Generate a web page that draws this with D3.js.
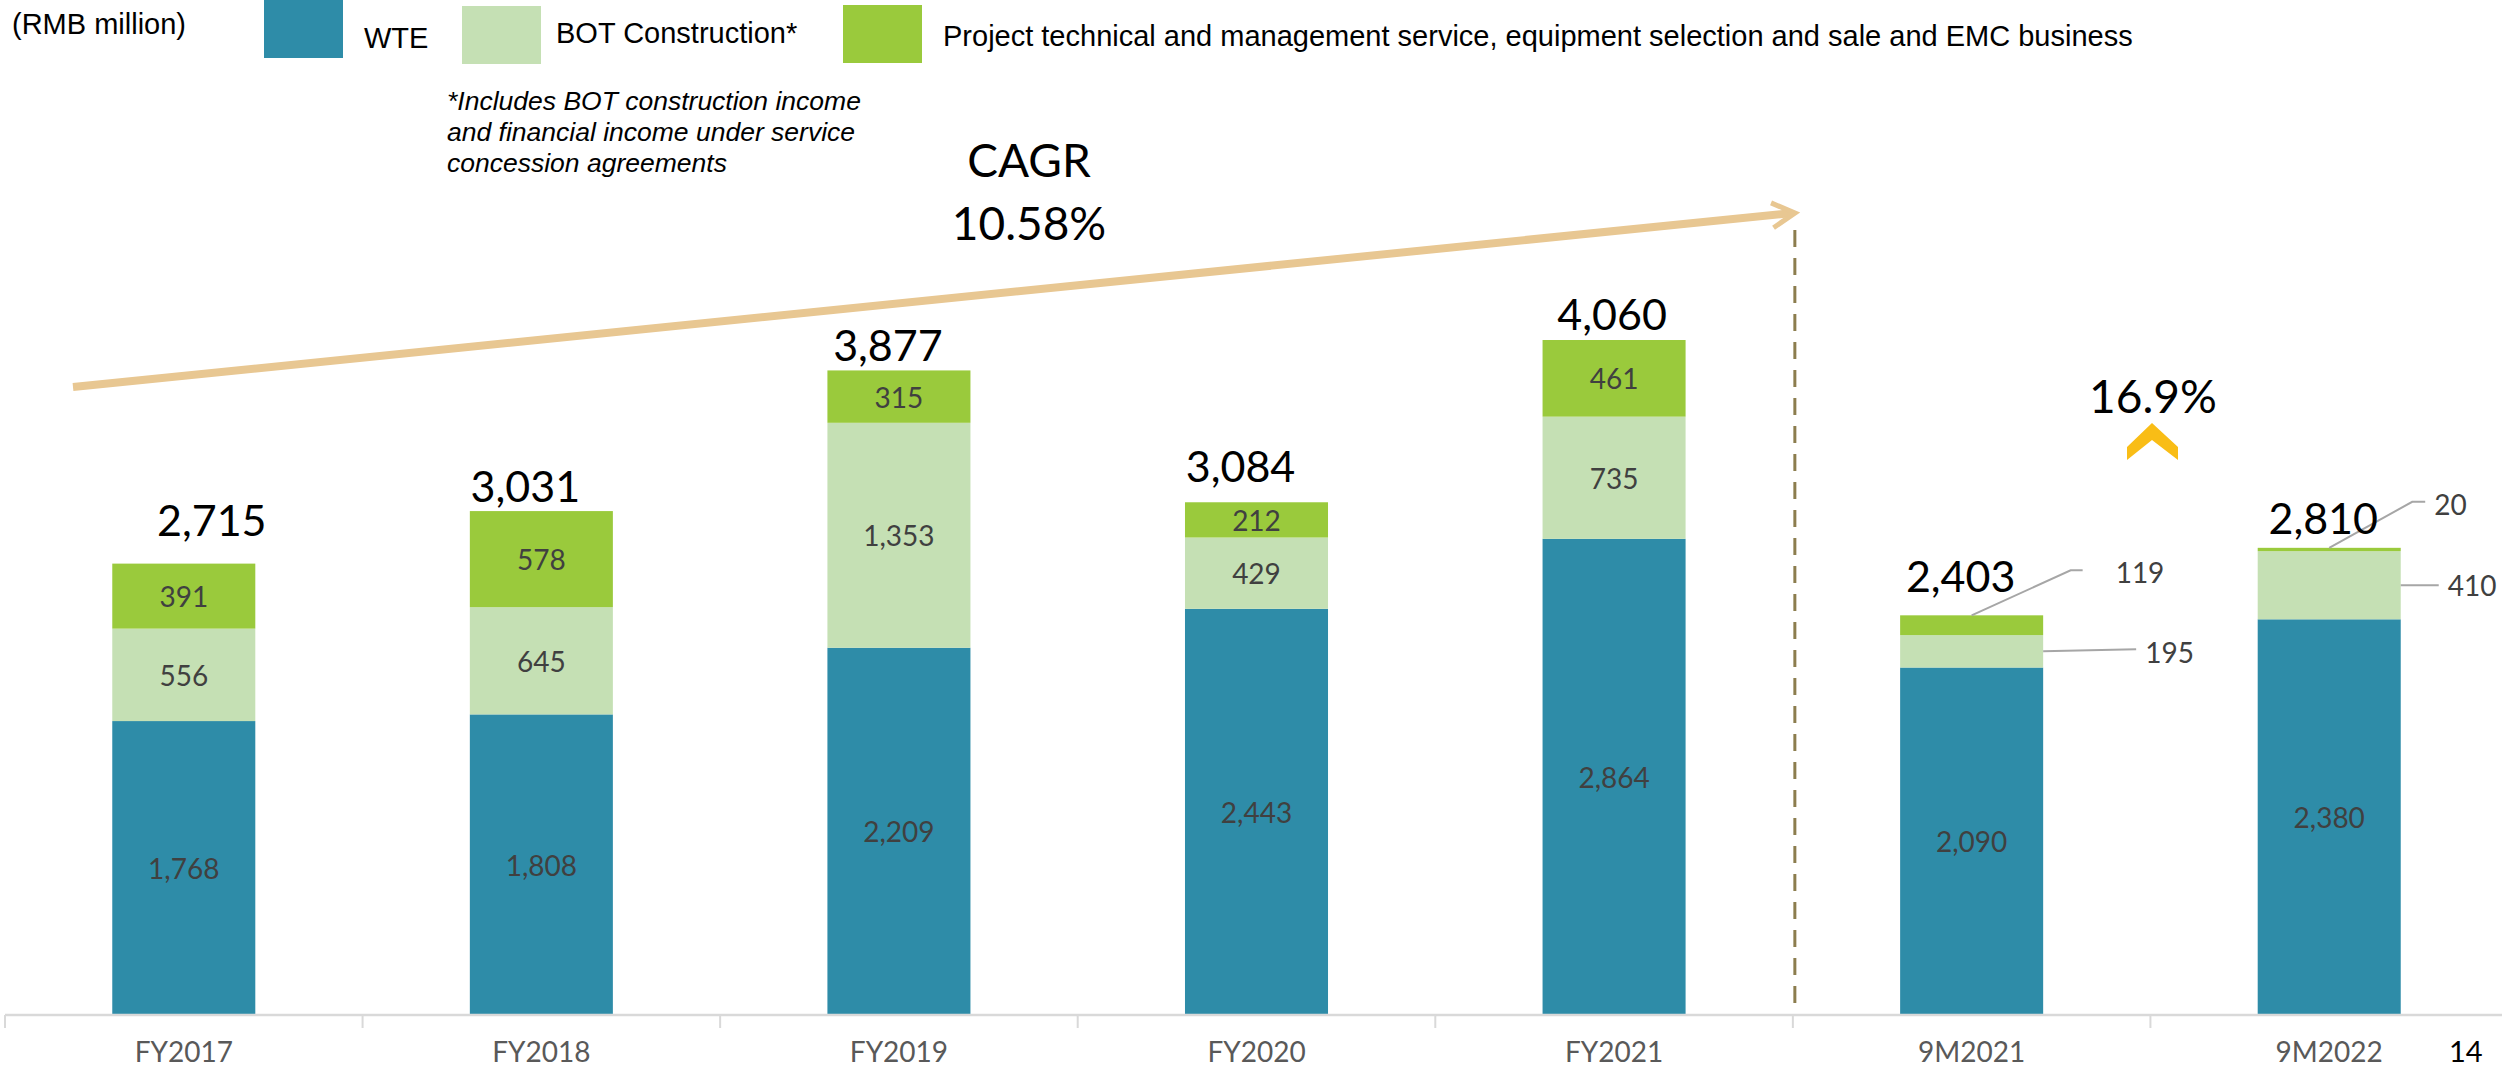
<!DOCTYPE html>
<html lang="en">
  <head>
    <meta charset="UTF-8" />
    <title>Revenue breakdown</title>
    <script src="https://d3js.org/d3.v7.min.js"></script>
    <style>
      html,
      body {
        margin: 0;
        padding: 0;
        background: #ffffff;
        overflow: hidden;
      }
      svg {
        display: block;
      }
      .legend text {
        font-family: "Liberation Sans", Arial, sans-serif;
        font-size: 29px;
        fill: #000;
      }
      .note {
        font-family: "Liberation Sans", Arial, sans-serif;
        font-size: 26.5px;
        font-style: italic;
        fill: #000;
      }
      .num {
        font-family: Lato, "Open Sans", sans-serif;
      }
    </style>
  </head>
  <body>
    <svg id="chart"></svg>
  </body>
  <script>
    // data (RMB million)
    const categories = ["FY2017", "FY2018", "FY2019", "FY2020", "FY2021", "9M2021", "9M2022"];
    const wte = [1768, 1808, 2209, 2443, 2864, 2090, 2380];
    const bot = [556, 645, 1353, 429, 735, 195, 410];
    const other = [391, 578, 315, 212, 461, 119, 20];
    const totalLabels = ["2,715", "3,031", "3,877", "3,084", "4,060", "2,403", "2,810"];
    const seriesNames = [
      "WTE",
      "BOT Construction*",
      "Project technical and management service, equipment selection and sale and EMC business",
    ];
    const unitLabel = "(RMB million)";
    const noteLines = [
      "*Includes BOT construction income",
      "and financial income under service",
      "concession agreements",
    ];
    const cagrLines = ["CAGR", "10.58%"];
    const growthLabel = "16.9%";
    const pageNumber = "14";

    const width = 2502;
    const height = 1069;
    const colors = { wte: "#2e8ca8", bot: "#c5e0b4", other: "#9aca3c" };
    const keys = ["wte", "bot", "other"];

    const svg = d3.select("#chart").attr("width", width).attr("height", height);

    const x = d3
      .scaleBand()
      .domain(categories)
      .range([5, 2508])
      .paddingInner(0.6)
      .paddingOuter(0.3);
    const step = x.step();
    const y = d3.scaleLinear().domain([0, 4060]).range([1015, 340]);

    const rows = categories.map((c, i) => ({ cat: c, wte: wte[i], bot: bot[i], other: other[i] }));
    const stacked = d3.stack().keys(keys)(rows);

    // CAGR arrow + separator
    const arrowStart = [73, 387];
    const arrowTip = [1795, 213];
    const ang = Math.atan2(arrowTip[1] - arrowStart[1], arrowTip[0] - arrowStart[0]);
    const head = (a) => [arrowTip[0] - 26 * Math.cos(ang + a), arrowTip[1] - 26 * Math.sin(ang + a)];
    svg
      .append("line")
      .attr("x1", arrowStart[0])
      .attr("y1", arrowStart[1])
      .attr("x2", arrowTip[0] - 3)
      .attr("y2", arrowTip[1])
      .attr("stroke", "#e8c792")
      .attr("stroke-width", 8);
    svg
      .append("polyline")
      .attr("points", [head(0.5), arrowTip, head(-0.5)].map((p) => p.join(",")).join(" "))
      .attr("fill", "none")
      .attr("stroke", "#e8c792")
      .attr("stroke-width", 5);

    const sepX = x("9M2021") - step * 0.3 + 2;
    svg
      .append("line")
      .attr("x1", sepX)
      .attr("x2", sepX)
      .attr("y1", 230)
      .attr("y2", 1003)
      .attr("stroke", "#8c7d4e")
      .attr("stroke-width", 3)
      .attr("stroke-dasharray", "17 11");

    // bars
    const layer = svg
      .append("g")
      .selectAll("g")
      .data(stacked)
      .join("g")
      .attr("fill", (d) => colors[d.key]);
    layer
      .selectAll("rect")
      .data((d) => d)
      .join("rect")
      .attr("x", (d) => x(d.data.cat))
      .attr("y", (d) => y(d[1]))
      .attr("width", x.bandwidth())
      .attr("height", (d) => y(d[0]) - y(d[1]));

    // labels inside segments
    const isCallout = (cat, key) => cat.startsWith("9M") && key !== "wte";
    stacked.forEach((s) => {
      s.forEach((d) => {
        if (isCallout(d.data.cat, s.key)) return;
        svg
          .append("text")
          .attr("class", "num")
          .attr("x", x(d.data.cat) + x.bandwidth() / 2)
          .attr("y", (y(d[0]) + y(d[1])) / 2)
          .attr("text-anchor", "middle")
          .attr("dominant-baseline", "central")
          .attr("font-size", 28)
          .attr("fill", "#404040")
          .text(d3.format(",")(d.data[s.key]));
      });
    });

    // callouts for the 9M bars
    const callouts = {
      "9M2021|other": { side: "top", pts: [[99, -45], [111, -45]], label: [144, -43] },
      "9M2021|bot": { side: "right", pts: [[93, -2]], label: [102, 1] },
      "9M2022|other": { side: "top", pts: [[83, -46], [96, -46]], label: [105, -44] },
      "9M2022|bot": { side: "right", pts: [[38, 0]], label: [47, 0] },
    };
    stacked.forEach((s) => {
      s.forEach((d) => {
        const c = callouts[d.data.cat + "|" + s.key];
        if (!c) return;
        const ax =
          c.side === "top" ? x(d.data.cat) + x.bandwidth() / 2 : x(d.data.cat) + x.bandwidth();
        const ay = c.side === "top" ? y(d[1]) : (y(d[0]) + y(d[1])) / 2;
        const pts = [[ax, ay]].concat(c.pts.map((p) => [ax + p[0], ay + p[1]]));
        svg
          .append("polyline")
          .attr("points", pts.map((p) => p.join(",")).join(" "))
          .attr("fill", "none")
          .attr("stroke", "#a6a6a6")
          .attr("stroke-width", 2);
        svg
          .append("text")
          .attr("class", "num")
          .attr("x", ax + c.label[0])
          .attr("y", ay + c.label[1])
          .attr("dominant-baseline", "central")
          .attr("font-size", 28)
          .attr("fill", "#404040")
          .text(d3.format(",")(d.data[s.key]));
      });
    });

    // totals
    const totalShift = [[28, -28], [-16, -9], [-11, -9], [-16, -20], [-2, -10], [-11, -23], [-6, -14]];
    const topLayer = stacked[stacked.length - 1];
    svg
      .append("g")
      .selectAll("text")
      .data(topLayer)
      .join("text")
      .attr("class", "num")
      .attr("x", (d, i) => x(d.data.cat) + x.bandwidth() / 2 + totalShift[i][0])
      .attr("y", (d, i) => y(d[1]) + totalShift[i][1])
      .attr("text-anchor", "middle")
      .attr("font-size", 43)
      .attr("fill", "#000")
      .text((d, i) => totalLabels[i]);

    // x axis
    const axisY = y(0);
    svg
      .append("line")
      .attr("x1", 5)
      .attr("x2", width)
      .attr("y1", axisY)
      .attr("y2", axisY)
      .attr("stroke", "#d9d9d9")
      .attr("stroke-width", 2.5);
    svg
      .append("g")
      .selectAll("line")
      .data(d3.range(categories.length + 1))
      .join("line")
      .attr("x1", (i) => 5 + i * step)
      .attr("x2", (i) => 5 + i * step)
      .attr("y1", axisY)
      .attr("y2", axisY + 13)
      .attr("stroke", "#d9d9d9")
      .attr("stroke-width", 2);
    const xAxis = svg
      .append("g")
      .attr("transform", `translate(0,${axisY})`)
      .call(d3.axisBottom(x).tickSize(0).tickPadding(0));
    xAxis.select(".domain").remove();
    xAxis
      .selectAll("text")
      .attr("class", "num")
      .attr("dy", null)
      .attr("y", 47)
      .attr("font-size", 28)
      .attr("fill", "#595959")
      .style("font-family", "Lato, sans-serif");

    // CAGR and growth
    svg
      .append("g")
      .selectAll("text")
      .data(cagrLines)
      .join("text")
      .attr("class", "num")
      .attr("x", 1029)
      .attr("y", (d, i) => 177 + i * 63)
      .attr("text-anchor", "middle")
      .attr("font-size", 46)
      .text((d) => d);
    svg
      .append("text")
      .attr("class", "num")
      .attr("x", 2153)
      .attr("y", 413)
      .attr("text-anchor", "middle")
      .attr("font-size", 46)
      .text(growthLabel);
    svg
      .append("polygon")
      .attr("points", "2152,423 2178,447 2178,460 2152,440 2127,460 2127,447")
      .attr("fill", "#f9bd16");

    // legend
    const legend = svg.append("g").attr("class", "legend");
    legend.append("text").attr("x", 12).attr("y", 34).text(unitLabel);
    const swatches = [
      { x: 264, y: 0, tx: 364, ty: 48 },
      { x: 462, y: 6, tx: 556, ty: 43 },
      { x: 843, y: 5, tx: 943, ty: 46 },
    ];
    keys.forEach((k, i) => {
      const s = swatches[i];
      legend
        .append("rect")
        .attr("x", s.x)
        .attr("y", s.y)
        .attr("width", 79)
        .attr("height", 58)
        .attr("fill", colors[k]);
      legend.append("text").attr("x", s.tx).attr("y", s.ty).text(seriesNames[i]);
    });
    svg
      .append("g")
      .selectAll("text")
      .data(noteLines)
      .join("text")
      .attr("class", "note")
      .attr("x", 447)
      .attr("y", (d, i) => 110 + i * 31)
      .text((d) => d);

    svg
      .append("text")
      .attr("class", "num")
      .attr("x", 2449)
      .attr("y", 1062)
      .attr("font-size", 29)
      .text(pageNumber);
  </script>
</html>
